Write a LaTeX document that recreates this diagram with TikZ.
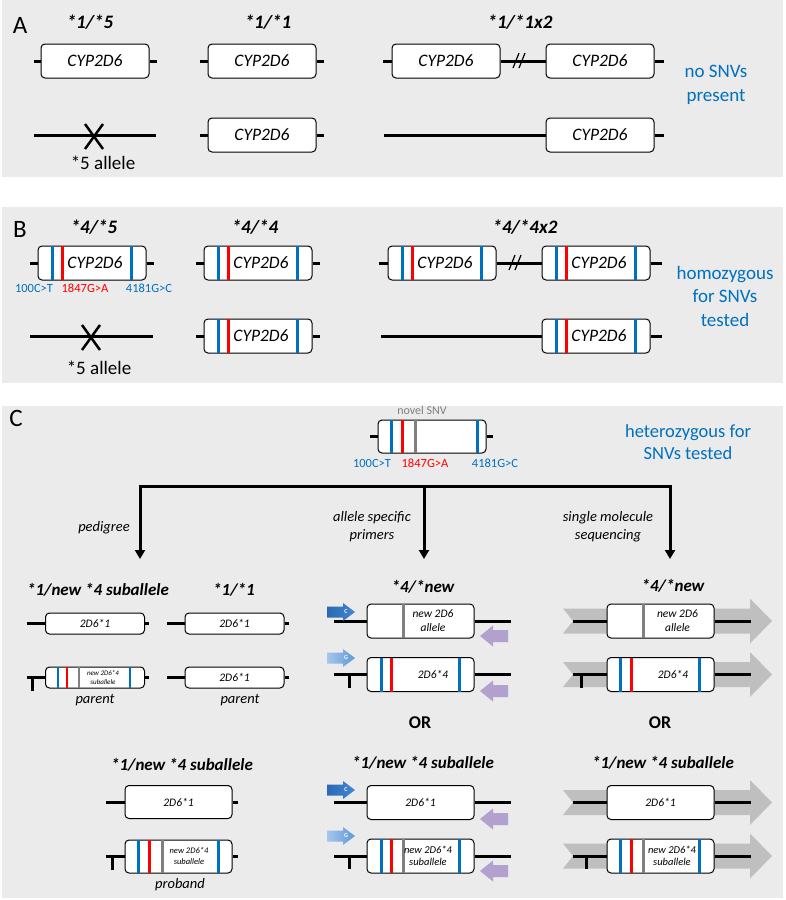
\documentclass[tikz,border=0pt]{standalone}
\usepackage{fontspec}
\setmainfont{Carlito}
\usepackage{xcolor}
\usetikzlibrary{arrows.meta}

\definecolor{snvblue}{RGB}{0,112,192}
\definecolor{snvred}{RGB}{255,0,0}
\definecolor{snvgray}{RGB}{128,128,128}
\definecolor{panelgray}{RGB}{235,235,235}
\definecolor{seqgray}{RGB}{191,191,191}
\definecolor{revprimer}{RGB}{178,161,207}
\definecolor{fwdCl}{RGB}{40,105,180}
\definecolor{fwdCr}{RGB}{70,135,210}
\definecolor{fwdGl}{RGB}{165,198,238}
\definecolor{fwdGr}{RGB}{95,152,215}

\begin{document}
\begin{tikzpicture}[x=1pt,y=-1pt,
    gene/.style={draw, rounded corners=4pt, fill=white, line width=1pt, minimum width=108pt,
        minimum height=34pt, inner sep=0pt, font=\fontsize{17.5}{20}\selectfont\itshape},
    smallgene/.style={gene, minimum width=99pt, minimum height=21pt, font=\fontsize{11.5}{13}\selectfont\itshape},
    midgene/.style={gene, minimum width=107pt, minimum height=34pt, font=\fontsize{11.5}{13}\selectfont\itshape},
    intxt/.style={align=center, inner sep=0pt, font=\fontsize{11.5}{14}\selectfont\itshape},
    stub/.style={line width=3pt},
    snvb/.style={snvblue, line width=2.5pt, shorten <=0.5pt, shorten >=0.5pt},
    snvr/.style={snvred, line width=2.5pt, shorten <=0.5pt, shorten >=0.5pt},
    snvg/.style={snvgray, line width=2.5pt, shorten <=0.5pt, shorten >=0.5pt},
    title/.style={font=\fontsize{19}{22}\selectfont\bfseries\itshape},
    ctitle/.style={font=\fontsize{17}{20}\selectfont\bfseries\itshape},
    panel/.style={font=\fontsize{25}{28}\selectfont},
    note/.style={snvblue, align=center, font=\fontsize{19}{23.5}\selectfont},
    snvlab/.style={font=\fontsize{12.5}{14}\selectfont},
    method/.style={align=center, font=\fontsize{14.5}{18}\selectfont\itshape},
    who/.style={font=\fontsize{14.5}{17}\selectfont\itshape},
    branch/.style={line width=3pt, -{Triangle[length=9pt,width=10pt]}},
]
    % canvas
    \fill[white] (0,0) rectangle (786,900);
    \useasboundingbox (0,0) rectangle (786,900);

    % ================= A: no SNVs =================
    \fill[panelgray] (2,0) rectangle (783,177);
    \node[panel] (labA) at (20,25) {A};
    \node[title] (tA1) at (90,22) {*1/*5};
    \node[title] (tA2) at (268,22) {*1/*1};
    \node[title] (tA3) at (520,22) {*1/*1x2};

    % first allele
    \node[gene] (a11) at (95,61) {CYP2D6};
    \node[gene] (a12) at (262,61) {CYP2D6};
    \node[gene] (a13) at (446,61) {CYP2D6};
    \node[gene] (a14) at (600,61) {CYP2D6};
    \draw[stub] (a11.west) -- +(-7,0);
    \draw[stub] (a11.east) -- +(7,0);
    \draw[stub] (a12.west) -- +(-8,0);
    \draw[stub] (a12.east) -- +(7,0);
    \draw[stub] (a13.west) -- +(-9,0);
    \draw[stub] (a13) -- (a14);
    \draw[stub] (a14.east) -- +(9,0);
    \draw[line width=1.2pt] (513,68) -- (519,53);
    \draw[line width=1.2pt] (519,68) -- (525,53);

    % second allele
    \coordinate (delA) at (94,135);
    \draw[stub] (delA) ++(-60,0) -- ++(122,0);
    \draw[line width=2.5pt] (delA) ++(-9,-11) -- ++(18,25);
    \draw[line width=2.5pt] (delA) ++(9,-11) -- ++(-18,25);
    \node[font=\fontsize{19}{22}\selectfont] (alA) at (103,163) {*5 allele};
    \node[gene] (a22) at (262,135) {CYP2D6};
    \node[gene] (a24) at (600,135) {CYP2D6};
    \draw[stub] (a22.west) -- +(-8,0);
    \draw[stub] (a22.east) -- +(7,0);
    \draw[stub] (a24.west) -- +(-162,0);
    \draw[stub] (a24.east) -- +(9,0);

    \node[note] (nA) at (716,85) {no SNVs\\present};

    % ================= B: homozygous =================
    \fill[panelgray] (2,207) rectangle (783,383);
    \node[panel] (labB) at (20,229) {B};
    \node[title] (tB1) at (94,227) {*4/*5};
    \node[title] (tB2) at (255,227) {*4/*4};
    \node[title] (tB3) at (525,227) {*4/*4x2};

    \node[gene] (b11) at (92,263) {};
    \node[gene] (b12) at (258,263) {};
    \node[gene] (b13) at (442,263) {};
    \node[gene] (b14) at (596,263) {};
    \node[gene] (b22) at (258,336) {};
    \node[gene] (b24) at (596,336) {};
    \draw[stub] (b11.west) -- +(-8,0);
    \draw[stub] (b11.east) -- +(7,0);
    \draw[stub] (b12.west) -- +(-8,0);
    \draw[stub] (b12.east) -- +(7,0);
    \draw[stub] (b13.west) -- +(-9,0);
    \draw[stub] (b13) -- (b14);
    \draw[stub] (b14.east) -- +(11,0);
    \draw[line width=1.2pt] (509,270) -- (515,255);
    \draw[line width=1.2pt] (515,270) -- (521,255);
    \draw[stub] (b22.west) -- +(-8,0);
    \draw[stub] (b22.east) -- +(7,0);
    \draw[stub] (b24.west) -- +(-161,0);
    \draw[stub] (b24.east) -- +(11,0);

    % SNVs in every *4 copy
    \foreach \b in {b11,b12,b13,b14,b22,b24} {
        \draw[snvb] ([xshift=15pt]\b.north west) -- ([xshift=15pt]\b.south west);
        \draw[snvr] ([xshift=25pt]\b.north west) -- ([xshift=25pt]\b.south west);
        \draw[snvb] ([xshift=-15pt]\b.north east) -- ([xshift=-15pt]\b.south east);
        \node[font=\fontsize{17.5}{20}\selectfont\itshape] (\b t) at ([xshift=3pt]\b.center) {CYP2D6};
    }
    \node[snvlab, snvblue] (sB1) at (34,288) {100C>T};
    \node[snvlab, snvred] (sB2) at (85,288) {1847G>A};
    \node[snvlab, snvblue] (sB3) at (149,288) {4181G>C};

    \coordinate (delB) at (91,336);
    \draw[stub] (delB) ++(-61,0) -- ++(123,0);
    \draw[line width=2.5pt] (delB) ++(-9,-11) -- ++(18,25);
    \draw[line width=2.5pt] (delB) ++(9,-11) -- ++(-18,25);
    \node[font=\fontsize{19}{22}\selectfont] (alB) at (99,368) {*5 allele};

    \node[note] (nB) at (725,296) {homozygous\\for SNVs\\tested};

    % ================= C: heterozygous =================
    \fill[panelgray] (2,406) rectangle (783,898);
    \node[panel] (labC) at (16,418) {C};

    \node[gene, minimum height=33pt] (c0) at (432,436.5) {};
    \draw[stub] (c0.west) -- +(-8,0);
    \draw[stub] (c0.east) -- +(6,0);
    \draw[snvb] ([xshift=14pt]c0.north west) -- ([xshift=14pt]c0.south west);
    \draw[snvr] ([xshift=25pt]c0.north west) -- ([xshift=25pt]c0.south west);
    \draw[snvg] ([xshift=38pt]c0.north west) -- ([xshift=38pt]c0.south west);
    \draw[snvb] ([xshift=-9pt]c0.north east) -- ([xshift=-9pt]c0.south east);
    \node[snvlab, snvgray, font=\fontsize{12}{14}\selectfont] (nov) at (422,410) {novel SNV};
    \node[snvlab, snvblue] (sC1) at (372,463) {100C>T};
    \node[snvlab, snvred] (sC2) at (425,463) {1847G>A};
    \node[snvlab, snvblue] (sC3) at (495,463) {4181G>C};
    \node[note, font=\fontsize{18.5}{22}\selectfont] (nC) at (688,442) {heterozygous for\\SNVs tested};

    % three ways to phase
    \coordinate (brL) at (140,486);
    \coordinate (brM) at (424,486);
    \coordinate (brR) at (670,486);
    \coordinate (enL) at (140,559);
    \coordinate (enM) at (424,559);
    \coordinate (enR) at (670,559);
    \draw[line width=3pt] ([xshift=-1.5pt]brL) -- ([xshift=1.5pt]brR);
    \draw[branch] (brL) -- (enL);
    \draw[branch] (brM) -- (enM);
    \draw[branch] (brR) -- (enR);
    \node[method] (mL) at (104,528) {pedigree};
    \node[method] (mM) at (372,527) {allele specific\\primers};
    \node[method] (mR) at (608,527) {single molecule\\sequencing};

    % --- pedigree ---
    \node[ctitle] (tP1) at (98,590) {*1/new *4 suballele};
    \node[ctitle] (tP2) at (234,590) {*1/*1};
    \node[smallgene] (p11) at (95,623.5) {2D6*1};
    \node[smallgene] (p12) at (234.5,623.5) {2D6*1};
    \node[smallgene] (p21) at (95,677.5) {};
    \node[smallgene] (p22) at (234.5,677.5) {2D6*1};
    \foreach \b in {p11,p12,p21,p22} {
        \draw[stub] (\b.west) -- +(-18,0);
        \draw[stub] (\b.east) -- +(4,0);
    }
    \draw[stub] ([xshift=-13pt]p21.west) -- +(0,13);
    \draw[snvb, line width=2pt] ([xshift=13pt]p21.north west) -- ([xshift=13pt]p21.south west);
    \draw[snvr, line width=2pt] ([xshift=22pt]p21.north west) -- ([xshift=22pt]p21.south west);
    \draw[snvg, line width=2pt] ([xshift=34pt]p21.north west) -- ([xshift=34pt]p21.south west);
    \draw[snvb, line width=2pt] ([xshift=-15pt]p21.north east) -- ([xshift=-15pt]p21.south east);
    \node[intxt, font=\fontsize{7}{8.5}\selectfont\itshape] (p21t) at ([xshift=8pt]p21.center) {new 2D6*4\\suballele};
    \node[who] (par1) at (95,700) {parent};
    \node[who] (par2) at (240,700) {parent};

    \node[ctitle] (tP3) at (182,765) {*1/new *4 suballele};
    \node[midgene, minimum height=33pt] (q1) at (178.5,802) {2D6*1};
    \node[midgene, minimum height=33pt] (q2) at (178.5,856.5) {};
    \foreach \b in {q1,q2} {
        \draw[stub] (\b.west) -- +(-19,0);
        \draw[stub] (\b.east) -- +(5,0);
    }
    \draw[stub] ([xshift=-12pt]q2.west) -- +(0,13);
    \draw[snvb] ([xshift=14pt]q2.north west) -- ([xshift=14pt]q2.south west);
    \draw[snvr] ([xshift=25pt]q2.north west) -- ([xshift=25pt]q2.south west);
    \draw[snvg] ([xshift=38pt]q2.north west) -- ([xshift=38pt]q2.south west);
    \draw[snvb] ([xshift=-14pt]q2.north east) -- ([xshift=-14pt]q2.south east);
    \node[intxt, font=\fontsize{8.5}{11}\selectfont\itshape] (q2t) at ([xshift=10.5pt]q2.center) {new 2D6*4\\suballele};
    \node[who] (prob) at (180,885) {proband};

    % --- allele specific primers ---
    \node[ctitle] (tM1) at (423,587) {*4/*new};
    \node[ctitle, font=\fontsize{18}{20}\selectfont\bfseries] (orM) at (420,723) {OR};
    \node[ctitle] (tM2) at (423,763) {*1/new *4 suballele};
    \node[midgene] (m1) at (420.5,621) {};
    \node[midgene] (m2) at (420.5,674.5) {};
    \node[midgene] (m3) at (420.5,802.5) {2D6*1};
    \node[midgene] (m4) at (420.5,856) {};
    \foreach \b in {m1,m2,m3,m4} {
        \draw[stub] (\b.west) -- +(-33,0);
        \draw[stub] (\b.east) -- +(36,0);
    }
    \draw[snvg] ([xshift=37pt]m1.north west) -- ([xshift=37pt]m1.south west);
    \node[intxt] (m1t) at ([xshift=12.5pt]m1.center) {new 2D6\\allele};
    \foreach \b in {m2,m4} {
        \draw[stub] ([xshift=-17pt]\b.west) -- +(0,13);
        \draw[snvb] ([xshift=15pt]\b.north west) -- ([xshift=15pt]\b.south west);
        \draw[snvr] ([xshift=25pt]\b.north west) -- ([xshift=25pt]\b.south west);
        \draw[snvb] ([xshift=-15pt]\b.north east) -- ([xshift=-15pt]\b.south east);
    }
    \draw[snvg] ([xshift=37pt]m4.north west) -- ([xshift=37pt]m4.south west);
    \node[intxt] (m2t) at ([xshift=12.5pt]m2.center) {2D6*4};
    \node[intxt, font=\fontsize{10.5}{11.5}\selectfont\itshape] (m4t) at ([xshift=7.5pt]m4.center) {new 2D6*4\\suballele};

    % forward primers (allele specific)
    \foreach \y/\base in {612/C, 790/C} {
        \shade[left color=fwdCl, right color=fwdCr] (327,\y-5.5) -- (343,\y-5.5) -- (343,\y-9) -- (355,\y)
            -- (343,\y+9) -- (343,\y+5.5) -- (327,\y+5.5) -- cycle;
        \node[white, font=\fontsize{6}{7}\selectfont\bfseries] (pf\y) at (346,\y) {\base};
    }
    \foreach \y/\base in {658/G, 836/G} {
        \shade[left color=fwdGl, right color=fwdGr] (327,\y-5.5) -- (343,\y-5.5) -- (343,\y-9) -- (355,\y)
            -- (343,\y+9) -- (343,\y+5.5) -- (327,\y+5.5) -- cycle;
        \node[white, font=\fontsize{6}{7}\selectfont\bfseries] (pf\y) at (346,\y) {\base};
    }
    % reverse primers
    \foreach \y in {636,691,819,871} {
        \fill[revprimer] (508,\y-6) -- (493,\y-6) -- (493,\y-10.5) -- (480,\y)
            -- (493,\y+10.5) -- (493,\y+6) -- (508,\y+6) -- cycle;
    }

    % --- single molecule sequencing ---
    \node[ctitle] (tR1) at (673,586) {*4/*new};
    \node[ctitle, font=\fontsize{18}{20}\selectfont\bfseries] (orR) at (660,723) {OR};
    \node[ctitle] (tR2) at (663,763) {*1/new *4 suballele};
    \foreach \y in {621,674.5,802.5,856} {
        \fill[seqgray] (563,\y-12.5) -- (750,\y-12.5) -- (750,\y-22.5) -- (772,\y)
            -- (750,\y+22.5) -- (750,\y+12.5) -- (563,\y+12.5) -- (573,\y) -- cycle;
    }
    \node[midgene] (r1) at (660.5,621) {};
    \node[midgene] (r2) at (660.5,674.5) {};
    \node[midgene] (r3) at (660.5,802.5) {2D6*1};
    \node[midgene] (r4) at (660.5,856) {};
    \foreach \b in {r1,r2,r3,r4} {
        \draw[stub] (\b.west) -- +(-34,0);
        \draw[stub] (\b.east) -- +(36,0);
    }
    \draw[snvg] ([xshift=37pt]r1.north west) -- ([xshift=37pt]r1.south west);
    \node[intxt] (r1t) at ([xshift=17pt]r1.center) {new 2D6\\allele};
    \foreach \b in {r2,r4} {
        \draw[snvb] ([xshift=14pt]\b.north west) -- ([xshift=14pt]\b.south west);
        \draw[snvr] ([xshift=25pt]\b.north west) -- ([xshift=25pt]\b.south west);
        \draw[snvb] ([xshift=-15pt]\b.north east) -- ([xshift=-15pt]\b.south east);
    }
    \draw[stub] ([xshift=-25pt]r2.west) -- +(0,13);
    \draw[stub] ([xshift=-20pt]r4.west) -- +(0,13);
    \draw[snvg] ([xshift=37pt]r4.north west) -- ([xshift=37pt]r4.south west);
    \node[intxt] (r2t) at ([xshift=12.5pt]r2.center) {2D6*4};
    \node[intxt, font=\fontsize{10.5}{11.5}\selectfont\itshape] (r4t) at ([xshift=11.5pt]r4.center) {new 2D6*4\\suballele};
\end{tikzpicture}
\end{document}
